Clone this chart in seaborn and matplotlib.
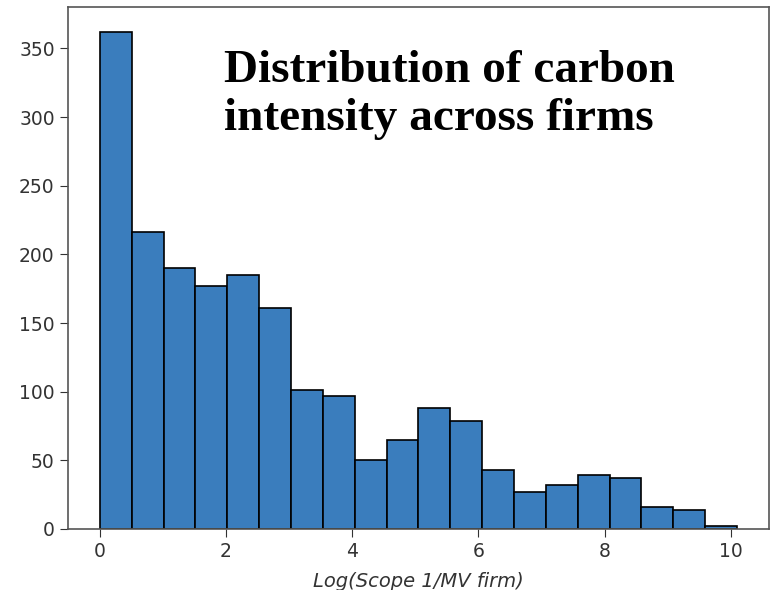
import numpy as np
import pandas as pd
import matplotlib
matplotlib.use("Agg")
import matplotlib.pyplot as plt
import seaborn as sns

# counts per bin (20 equal bins between lo and hi)
counts = [362, 216, 190, 177, 185, 161, 101, 97, 50, 65,
          88, 79, 43, 27, 32, 39, 37, 16, 14, 2]
lo, hi = 0.0, 10.1
x_label = "Log(Scope 1/MV firm)"
title = "Distribution of carbon\nintensity across firms"

edges = np.linspace(lo, hi, len(counts) + 1)
data = pd.DataFrame({"x": (edges[:-1] + edges[1:]) / 2, "n": counts})

sns.set_style("ticks")
plt.rcParams["font.family"] = ["DejaVu Sans"]

fig = plt.figure(figsize=(7.72, 5.90), dpi=100)
ax = fig.add_axes([0.088, 0.1034, 0.908, 0.8846])

sns.histplot(data=data, x="x", weights="n", bins=len(counts),
             binrange=(lo, hi), ax=ax,
             color="#3a7dbd", alpha=1, edgecolor="black", linewidth=1.2)

ax.set_xlabel(x_label, fontsize=14, fontstyle="italic", color="#333333",
              labelpad=8)
ax.set_ylabel("")
ax.set_xticks([0, 2, 4, 6, 8, 10])
ax.set_yticks([0, 50, 100, 150, 200, 250, 300, 350])
ax.tick_params(labelsize=13.5, colors="#333333", length=6)
for s in ax.spines.values():
    s.set_color("#555555")
    s.set_linewidth(1.2)

# title sits inside the axes, upper right of the tall first bar
ax.text(0.2225, 0.918, title, transform=ax.transAxes, ha="left", va="top",
        fontsize=34, fontweight="bold", family="Liberation Serif",
        color="black", linespacing=1.18)

fig.savefig("out.png", dpi=100)
